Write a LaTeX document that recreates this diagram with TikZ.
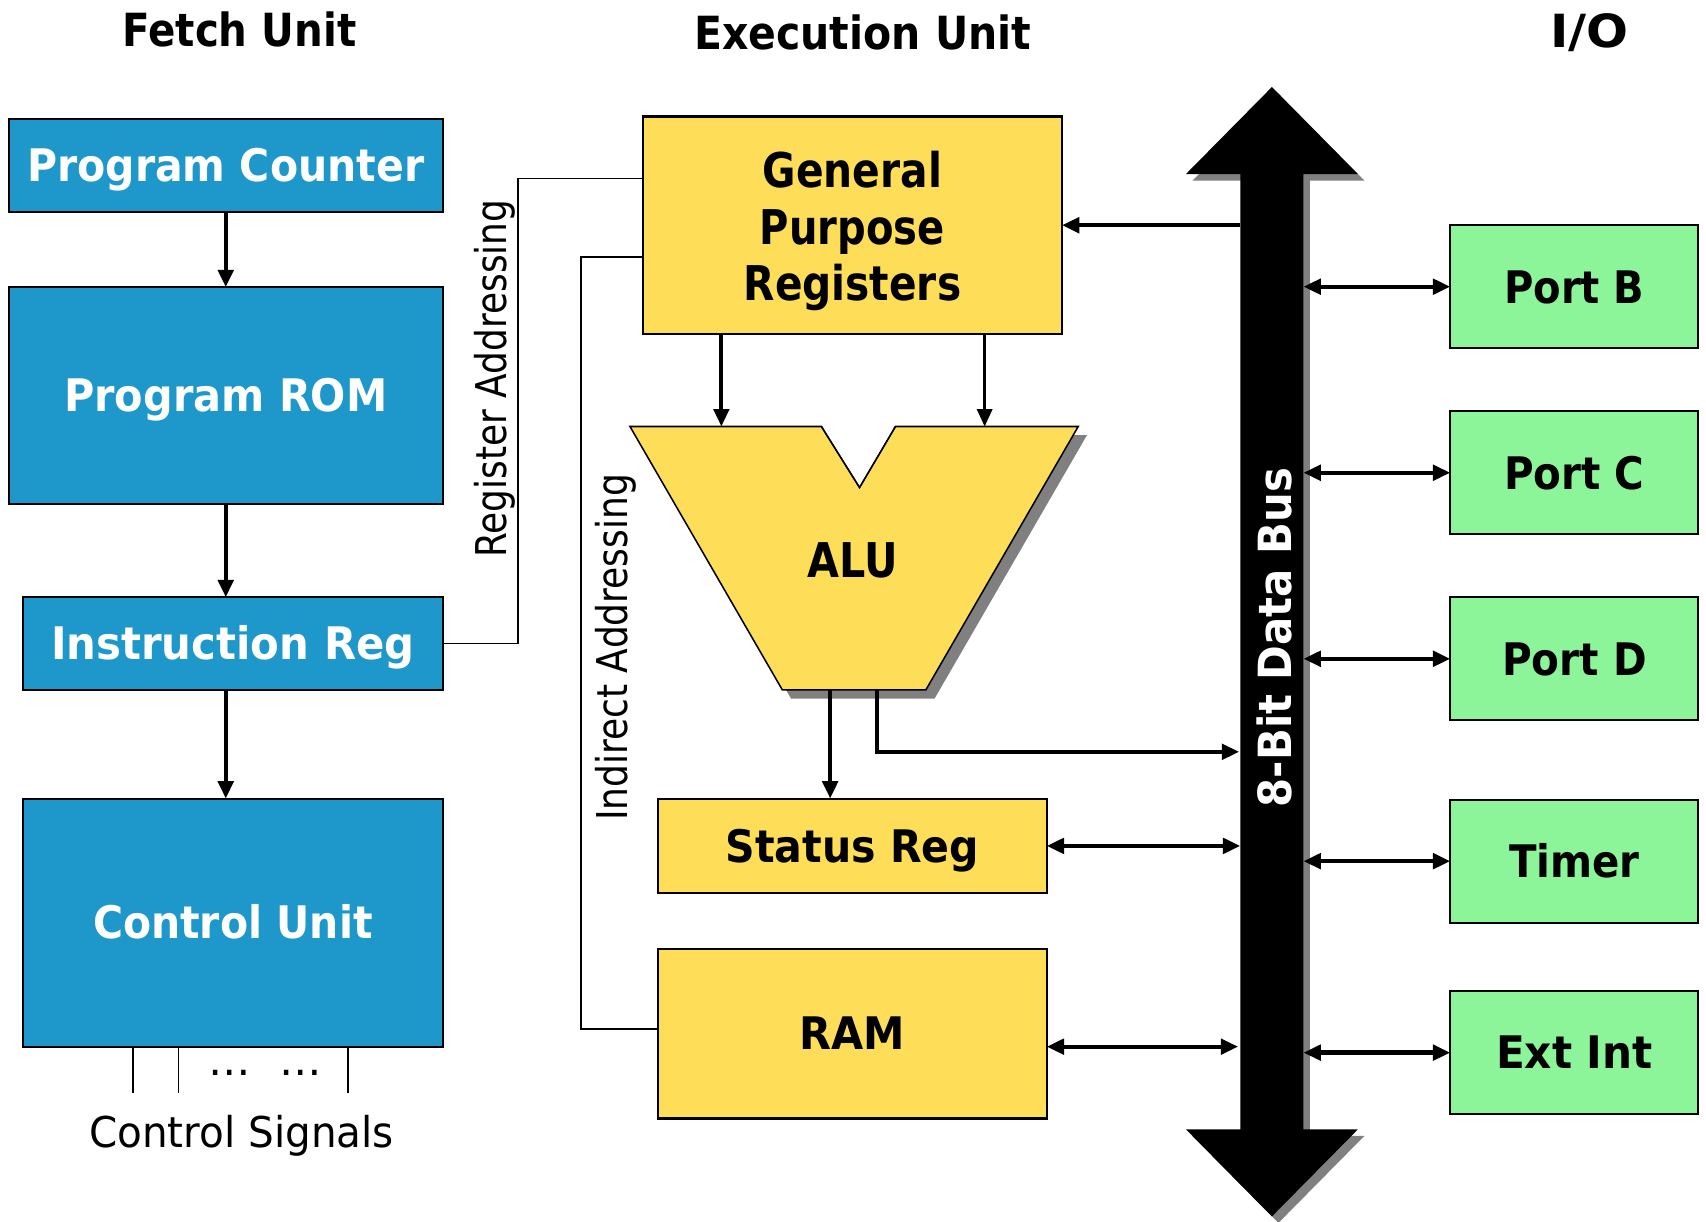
\documentclass[tikz,border=0pt]{standalone}
\usepackage{fontspec}
\setmainfont{DejaVu Sans}
\usepackage{graphicx}
\usetikzlibrary{arrows.meta,calc}
\definecolor{fetchblue}{RGB}{30,152,203}
\definecolor{execyellow}{RGB}{254,222,88}
\definecolor{iogreen}{RGB}{140,245,154}
\definecolor{shadowgray}{RGB}{128,128,128}
\newsavebox\fitbox
\newcommand\fitto[2]{\sbox\fitbox{#2}\scalebox{\fpeval{\number\dimexpr#1\relax/\number\wd\fitbox}}[1]{\usebox\fitbox}}
\begin{document}
\begin{tikzpicture}[x=0.5pt,y=-0.5pt,
  box/.style={draw=black, line width=1pt, inner sep=0pt, outer sep=0pt},
  boldtext/.style={font=\bfseries\fontsize{20.6pt}{24pt}\selectfont, text height=15pt, text depth=0pt},
  fetchbox/.style={box, fill=fetchblue, text=white, boldtext},
  execbox/.style={box, fill=execyellow, boldtext},
  iobox/.style={box, fill=iogreen, minimum width=114pt, minimum height=56.5pt, boldtext},
  title/.style={font=\bfseries\fontsize{21pt}{24pt}\selectfont, inner sep=0pt},
  thinlabel/.style={font=\fontsize{19.5pt}{22pt}\selectfont, inner sep=0pt},
  tip/.tip={Triangle[length=8pt,width=7pt]},
  flow/.style={line width=2pt, -tip},
  biflow/.style={line width=2pt, tip-tip},
  wire/.style={line width=0.8pt},
]
\useasboundingbox (0,0) rectangle (1568,1123);

% titles
\node[title] (tfetch) at (220,27) {\fitto{107.5pt}{Fetch Unit}};
\node[title] (texec) at (793,30) {\fitto{155pt}{Execution Unit}};
\node[title] (tio) at (1461,30) {\fitto{36pt}{I/O}};

% fetch unit
\node[fetchbox, minimum width=199.5pt, minimum height=43pt] (pc) at (207.5,152) {\fitto{182.5pt}{Program Counter}};
\node[fetchbox, minimum width=199.5pt, minimum height=99.5pt] (rom) at (207.5,363.5) {\fitto{148.5pt}{Program ROM}};
\node[fetchbox, minimum width=193pt, minimum height=42.5pt] (ir) at (214,591.5) {\fitto{167pt}{Instruction Reg}};
\node[fetchbox, minimum width=193pt, minimum height=114pt] (cu) at (214,848) {\fitto{128.5pt}{Control Unit}};

\coordinate (fx) at (207.5,0);
\draw[flow] (pc.south) -- (rom.north);
\draw[flow] (rom.south) -- (fx |- ir.north);
\draw[flow] (fx |- ir.south) -- (fx |- cu.north);

% control signals
\coordinate (s1) at (122,1005);
\coordinate (s2) at (164,1005);
\coordinate (s3) at (320,1005);
\draw[wire] (s1 |- cu.south) -- (s1);
\draw[wire] (s2 |- cu.south) -- (s2);
\draw[wire] (s3 |- cu.south) -- (s3);
\node[thinlabel] (dots1) at (211,986) {\char"2026};
\node[thinlabel] (dots2) at (276,986) {\char"2026};
\node[thinlabel] (csig) at (222,1044) {\fitto{140pt}{Control Signals}};

% execution unit
\node[box, fill=execyellow, minimum width=192.5pt, minimum height=100pt] (gpr) at (783.5,207) {};
\node[align=center, inner sep=0pt, font=\bfseries\fontsize{22pt}{26pt}\selectfont] (gprtext) at (783.5,212.5)
  {\fitto{82.5pt}{General}\\\fitto{85pt}{Purpose}\\\fitto{100pt}{Registers}};

% ALU
\fill[shadowgray] (587,400) -- (999,400) -- (859,642) -- (727,642) -- cycle;
\filldraw[fill=execyellow, draw=black, line width=0.7pt]
  (579,392) -- (755,392) -- (790,448) -- (823,392) -- (991,392) -- (851,634) -- (719,634) -- cycle;
\fill[white] (757,394) -- (790,447) -- (821,394) -- cycle;
\draw[line width=0.7pt] (755,392) -- (790,448) -- (823,392);
\node[font=\bfseries\fontsize{22pt}{26pt}\selectfont, inner sep=0pt, text height=16pt, text depth=0pt] (alu) at (784,515) {\fitto{41.5pt}{ALU}};
\coordinate (aluinL) at (663,392);
\coordinate (aluinR) at (905,392);
\coordinate (aluL) at (763,634);
\coordinate (aluR) at (806,634);

\node[execbox, minimum width=178.5pt, minimum height=43.5pt] (status) at (783.5,777.5) {\fitto{116.5pt}{Status Reg}};
\node[execbox, minimum width=178.5pt, minimum height=78pt] (ram) at (783.5,950) {\fitto{48.5pt}{RAM}};

% bus
\node[inner sep=0pt, outer sep=0pt, minimum width=29pt, minimum height=439pt] (bus) at (1169,599) {};
\fill[shadowgray, shift={(6,6)}] (1140,160) -- (1090,160) -- (1169,80) -- (1248,160) -- (1198,160) -- (1198,1038) -- (1248,1038) -- (1169,1118) -- (1090,1038) -- (1140,1038) -- cycle;
\fill[black] (1140,160) -- (1090,160) -- (1169,80) -- (1248,160) -- (1198,160) -- (1198,1038) -- (1248,1038) -- (1169,1118) -- (1090,1038) -- (1140,1038) -- cycle;
\node[rotate=90, text=white, font=\bfseries\fontsize{21pt}{24pt}\selectfont, inner sep=0pt] (buslabel) at (1171,586) {\fitto{156pt}{8-Bit Data Bus}};

% IO
\node[iobox] (portb) at (1447,263.5) {\fitto{64.5pt}{Port B}};
\node[iobox] (portc) at (1447,434.5) {\fitto{64.5pt}{Port C}};
\node[iobox] (portd) at (1447,605.5) {\fitto{66.5pt}{Port D}};
\node[iobox] (timer) at (1447,791.5) {\fitto{60pt}{Timer}};
\node[iobox] (extint) at (1447,967.5) {\fitto{72pt}{Ext Int}};

% addressing wires
\coordinate (ra) at (476,164);
\coordinate (ia) at (534,236);
\draw[wire] (ir.east) -| (ra) -- (ra -| gpr.west);
\draw[wire] (ia -| gpr.west) -- (ia) |- ($(ram.west)+(0,-4)$);
\node[thinlabel, rotate=90] (lra) at (455,348) {\fitto{164.5pt}{Register Addressing}};
\node[thinlabel, rotate=90] (lia) at (566,595) {\fitto{159.5pt}{Indirect Addressing}};

% execution connectors
\draw[line width=1.8pt, -tip] (aluinL |- gpr.south) -- (aluinL);
\draw[line width=1.2pt, -tip] (aluinR |- gpr.south) -- (aluinR);
\draw[flow] (gpr.east -| bus.west) -- (gpr.east);
\draw[flow] (aluL) -- (aluL |- status.north);
\coordinate (busin) at (1139,691);
\draw[flow] (aluR) |- (busin);
\draw[biflow] (status.east) -- (status.east -| bus.west);
\draw[biflow] ($(ram.east)+(0,12)$) -- ($(ram.east -| bus.west)+(-2,12)$);

% IO connectors
\foreach \p in {portb,portc,portd,timer,extint}
  \draw[biflow] (\p.west -| bus.east) -- (\p.west);
\end{tikzpicture}
\end{document}
